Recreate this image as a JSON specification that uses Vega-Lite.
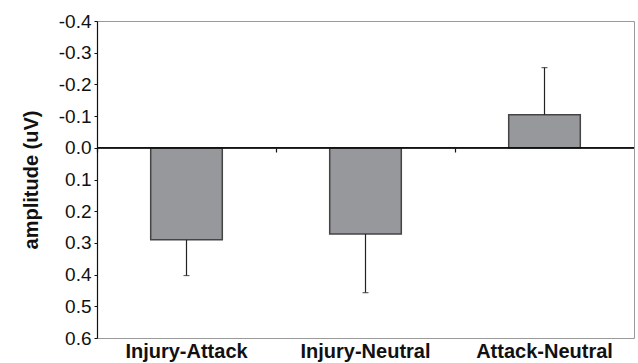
{
  "$schema": "https://vega.github.io/schema/vega-lite/v6.json",
  "width": 537,
  "height": 317,
  "autosize": {"type": "none"},
  "padding": {"left": 97, "top": 21, "right": 4, "bottom": 25},
  "background": "white",
  "config": {
    "view": {"stroke": "#9a9a9a", "strokeWidth": 1},
    "font": "Liberation Sans",
    "axis": {
      "labelFont": "Liberation Sans",
      "labelColor": "#111",
      "titleFont": "Liberation Sans",
      "titleFontWeight": "bold",
      "titleColor": "#111",
      "grid": false
    }
  },
  "data": {
    "values": [
      {"cond": "Injury-Attack", "amp": 0.29, "err": 0.403},
      {"cond": "Injury-Neutral", "amp": 0.272, "err": 0.457},
      {"cond": "Attack-Neutral", "amp": -0.104, "err": -0.253}
    ]
  },
  "resolve": {"axis": {"x": "independent"}},
  "layer": [
    {
      "mark": {"type": "bar", "fill": "#97989b", "stroke": "#444", "strokeWidth": 1.5},
      "encoding": {
        "x": {
          "field": "cond",
          "type": "nominal",
          "sort": null,
          "scale": {"paddingInner": 0.6, "paddingOuter": 0.3},
          "axis": {
            "orient": "bottom",
            "title": null,
            "domain": false,
            "ticks": false,
            "labelAngle": 0,
            "labelAlign": "center",
            "labelFontSize": 20,
            "labelFontWeight": "bold",
            "labelPadding": 3
          }
        },
        "y": {
          "field": "amp",
          "type": "quantitative",
          "scale": {"domain": [-0.4, 0.6], "reverse": true, "nice": false, "zero": false},
          "axis": {
            "title": "amplitude (uV)",
            "titleFontSize": 20,
            "titlePadding": 17,
            "tickCount": 10,
            "labelExpr": "replace(format(datum.value, '.1f'), '\u2212', '-')",
            "labelOverlap": false,
            "labelFontSize": 19,
            "labelPadding": 3,
            "tickSize": 3,
            "tickColor": "#111",
            "domainColor": "#111",
            "domainWidth": 1.2
          }
        },
        "y2": {"datum": 0}
      }
    },
    {
      "mark": {"type": "rule", "color": "#222", "strokeWidth": 1.2},
      "encoding": {
        "x": {"field": "cond", "type": "nominal", "sort": null, "axis": null},
        "y": {"field": "amp", "type": "quantitative"},
        "y2": {"field": "err"}
      }
    },
    {
      "mark": {"type": "tick", "orient": "horizontal", "size": 6, "thickness": 1.2, "color": "#222"},
      "encoding": {
        "x": {"field": "cond", "type": "nominal", "sort": null, "axis": null},
        "y": {"field": "err", "type": "quantitative"}
      }
    },
    {
      "mark": {"type": "rule", "color": "#111", "strokeWidth": 1.2},
      "encoding": {
        "y": {"datum": 0, "type": "quantitative"}
      }
    },
    {
      "mark": {"type": "tick", "opacity": 0},
      "encoding": {
        "x": {
          "field": "cond",
          "type": "nominal",
          "sort": null,
          "axis": {
            "orient": "top",
            "title": null,
            "labels": false,
            "domain": false,
            "ticks": true,
            "tickSize": 4,
            "tickWidth": 1.2,
            "tickColor": "#111",
            "bandPosition": -0.75,
            "offset": -131
          }
        },
        "y": {"datum": 0, "type": "quantitative"}
      }
    }
  ]
}
